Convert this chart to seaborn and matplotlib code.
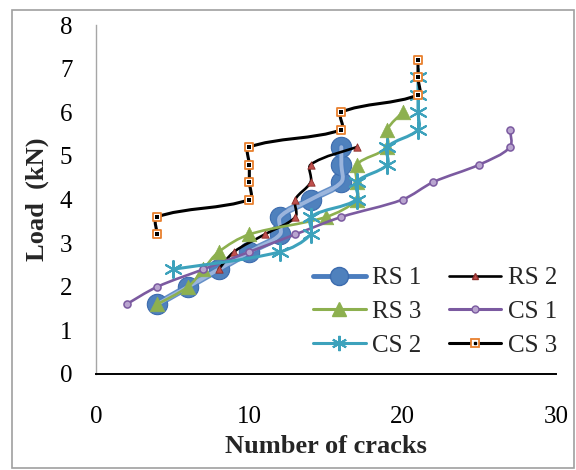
import matplotlib
matplotlib.use("Agg")
import matplotlib.pyplot as plt
from matplotlib.path import Path
from matplotlib.patches import PathPatch, Rectangle
from matplotlib.lines import Line2D
from matplotlib.legend_handler import HandlerTuple
import numpy as np
import seaborn as sns

# Data
rs1_x = [4, 6, 8, 10, 12, 12, 14, 16, 16, 16]
rs1_y = [1.6, 2.0, 2.4, 2.8, 3.2, 3.6, 4.0, 4.4, 4.8, 5.2]
rs2_x = [8, 9, 11, 13, 13, 14, 14, 17]
rs2_y = [2.4, 2.8, 3.2, 3.6, 4.0, 4.4, 4.8, 5.2]
rs3_x = [4, 6, 7, 8, 10, 15, 17, 17, 17, 19, 19, 20]
rs3_y = [1.6, 2.0, 2.4, 2.8, 3.2, 3.6, 4.0, 4.4, 4.8, 5.2, 5.6, 6.0]
cs1_x = [2, 4, 7, 10, 13, 16, 20, 22, 25, 27, 27]
cs1_y = [1.6, 2.0, 2.4, 2.8, 3.2, 3.6, 4.0, 4.4, 4.8, 5.2, 5.6]
cs2_x = [5, 12, 14, 14, 17, 17, 19, 19, 21, 21, 21, 21]
cs2_y = [2.4, 2.8, 3.2, 3.6, 4.0, 4.4, 4.8, 5.2, 5.6, 6.0, 6.4, 6.8]
cs3_x = [4, 4, 10, 10, 10, 10, 16, 16, 21, 21, 21]
cs3_y = [3.2, 3.6, 4.0, 4.4, 4.8, 5.2, 5.6, 6.0, 6.4, 6.8, 7.2]

x_ticks = [0, 10, 20, 30]
y_ticks = [0, 1, 2, 3, 4, 5, 6, 7, 8]

# Plot aesthetics
sns.set_style("white")
plt.rcParams["font.family"] = ["Liberation Serif", "DejaVu Serif"]


def smooth_path(ax, xs, ys):
    # Excel-like smoothed line: cubic Bezier segments through the points,
    # tangents weighted by on-screen segment lengths
    p = np.column_stack([xs, ys]).astype(float)
    d = ax.transData.transform(p)
    n = len(p)
    seg = np.hypot(*np.diff(d, axis=0).T)
    verts = [p[0]]
    codes = [Path.MOVETO]
    for i in range(n - 1):
        lp = seg[i - 1] if i > 0 else seg[i]
        ln = seg[i + 1] if i + 2 < n else seg[i]
        t1 = p[i + 1] - p[max(i - 1, 0)]
        t2 = p[min(i + 2, n - 1)] - p[i]
        c1 = p[i] + t1 * (seg[i] / (lp + seg[i])) / 3
        c2 = p[i + 1] - t2 * (seg[i] / (seg[i] + ln)) / 3
        verts += [c1, c2, p[i + 1]]
        codes += [Path.CURVE4] * 3
    return Path(verts, codes)


def draw_line(ax, xs, ys, color, lw, z, alpha=1.0):
    ax.add_patch(PathPatch(smooth_path(ax, xs, ys), facecolor="none", edgecolor=color,
                           lw=lw, zorder=z, alpha=alpha, capstyle="round",
                           joinstyle="round"))


fig, ax = plt.subplots(figsize=(5.76, 4.70), dpi=100)
fig.subplots_adjust(left=96 / 576, right=556 / 576, bottom=1 - 374 / 470, top=1 - 25 / 470)
ax.set_xlim(0, 30)
ax.set_ylim(0, 8)

# RS 1
sns.scatterplot(x=rs1_x, y=rs1_y, marker="o", s=215, color="#4F81BD",
                edgecolor="#3C6BAE", linewidth=0.8, zorder=2, ax=ax, legend=False)
draw_line(ax, rs1_x, rs1_y, "#4B7DBE", 5.0, 2.1, alpha=0.85)
draw_line(ax, rs1_x, rs1_y, "#A3BBE0", 2.8, 2.2, alpha=0.9)

# RS 2
draw_line(ax, rs2_x, rs2_y, "black", 1.9, 3)
sns.scatterplot(x=rs2_x, y=rs2_y, marker="^", s=28, color="#C0504D",
                edgecolor="#8C2E2B", linewidth=0.6, zorder=3.1, ax=ax, legend=False)

# RS 3
draw_line(ax, rs3_x, rs3_y, "#8DB04F", 1.9, 4)
sns.scatterplot(x=rs3_x, y=rs3_y, marker="^", s=110, color="#8DB04F",
                edgecolor="#8DB04F", linewidth=0.5, zorder=4.1, ax=ax, legend=False)

# CS 1
draw_line(ax, cs1_x, cs1_y, "#7B5AA0", 1.9, 5)
sns.scatterplot(x=cs1_x, y=cs1_y, marker="o", s=26, color="#B9A5CF",
                edgecolor="#7B5AA0", linewidth=1.1, zorder=5.1, ax=ax, legend=False)

# CS 2
draw_line(ax, cs2_x, cs2_y, "#3DA2BC", 2.2, 6)
sns.scatterplot(x=cs2_x, y=cs2_y, marker=(6, 2, 0), s=150, color="#3DA2BC",
                edgecolor="#3DA2BC", linewidth=1.5, zorder=6.1, ax=ax, legend=False)

# CS 3
draw_line(ax, cs3_x, cs3_y, "black", 2.2, 7)
sns.scatterplot(x=cs3_x, y=cs3_y, marker="s", s=38, color="white",
                edgecolor="#E8802E", linewidth=1.3, zorder=7.1, ax=ax, legend=False)
sns.scatterplot(x=cs3_x, y=cs3_y, marker="s", s=6, color="black",
                edgecolor="black", linewidth=0, zorder=7.2, ax=ax, legend=False)

# Axes
ax.set_xticks(x_ticks)
ax.set_yticks(y_ticks)
ax.tick_params(axis="both", length=0, labelsize=18, colors="black")
ax.tick_params(axis="x", pad=23)
ax.tick_params(axis="y", pad=17)
ax.set_xlabel("Number of cracks", fontsize=19, fontweight="bold", labelpad=5)
ax.set_ylabel("Load  (kN)", fontsize=19, fontweight="bold", labelpad=8)
sns.despine(ax=ax)
ax.spines["left"].set_color("#A6A6A6")
ax.spines["left"].set_linewidth(1.0)
ax.spines["bottom"].set_color("black")
ax.spines["bottom"].set_linewidth(1.4)

# Legend
h_rs1 = Line2D([], [], color="#4B7DBE", lw=3.5, marker="o", ms=13,
               mfc="#4F81BD", mec="#3C6BAE")
h_rs2 = Line2D([], [], color="black", lw=1.9, marker="^", ms=5,
               mfc="#C0504D", mec="#8C2E2B")
h_rs3 = Line2D([], [], color="#8DB04F", lw=2.2, marker="^", ms=10,
               mfc="#8DB04F", mec="#8DB04F")
h_cs1 = Line2D([], [], color="#7B5AA0", lw=2.2, marker="o", ms=5,
               mfc="#B9A5CF", mec="#7B5AA0")
h_cs2 = Line2D([], [], color="#3DA2BC", lw=2.2, marker=(6, 2, 0), ms=11,
               mec="#3DA2BC", mew=1.5)
h_cs3a = Line2D([], [], color="black", lw=2.2, marker="s", ms=6,
                mfc="white", mec="#E8802E", mew=1.3)
h_cs3b = Line2D([], [], ls="", marker="s", ms=2, mfc="black", mec="black")
handles = [h_rs1, h_rs3, h_cs2, h_rs2, h_cs1, (h_cs3a, h_cs3b)]
labels = ["RS 1", "RS 3", "CS 2", "RS 2", "CS 1", "CS 3"]
ax.legend(handles, labels, ncol=2, loc="center", bbox_to_anchor=(0.737, 0.178),
          frameon=False, fontsize=18, borderpad=0, handlelength=2.1,
          handletextpad=0.25, columnspacing=1.1, labelspacing=0.45,
          handler_map={tuple: HandlerTuple(ndivide=1, pad=0)})

# Chart border
fig.add_artist(Rectangle((12 / 576, 2 / 470), 562 / 576, 458 / 470,
                         fill=False, edgecolor="#A0A0A0", lw=1.2,
                         transform=fig.transFigure))

plt.savefig("out.png", dpi=100)
